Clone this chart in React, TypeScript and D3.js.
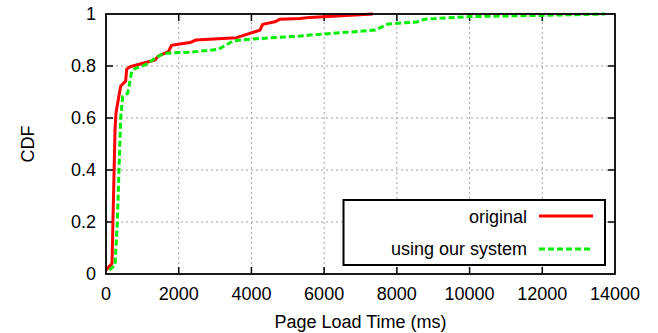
import * as d3 from "d3";
import React from "react";

// page load time (ms) vs CDF
const originalX = [0, 165, 248, 275, 404, 541, 569, 660, 1348, 1440, 1714, 1805, 2310, 2475, 3594, 4235, 4308, 4647, 4785, 5335, 5610, 7340];
const originalY = [0.015, 0.04, 0.554, 0.62, 0.723, 0.742, 0.788, 0.797, 0.823, 0.838, 0.855, 0.88, 0.89, 0.9, 0.909, 0.938, 0.96, 0.97, 0.98, 0.983, 0.987, 1.0];

const systemX = [92, 248, 312, 348, 404, 459, 596, 706, 797, 1072, 1394, 1595, 2310, 3090, 3502, 4144, 5335, 5610, 7398, 7765, 8543, 8772, 10010, 12027, 13722];
const systemY = [0.015, 0.035, 0.2, 0.36, 0.6, 0.682, 0.695, 0.778, 0.79, 0.804, 0.833, 0.849, 0.853, 0.864, 0.897, 0.905, 0.915, 0.919, 0.938, 0.962, 0.969, 0.98, 0.99, 0.995, 1.0];

const xTicks = [0, 2000, 4000, 6000, 8000, 10000, 12000, 14000];
const yTicks = [0, 0.2, 0.4, 0.6, 0.8, 1];

const W = 658;
const H = 333;
const m = { left: 106, right: 43, top: 14, bottom: 59 };
const font = "'Liberation Sans', Arial, Helvetica, sans-serif";

export default function App() {
  const x = d3.scaleLinear().domain([0, 14000]).range([m.left, W - m.right]);
  const y = d3.scaleLinear().domain([0, 1]).range([H - m.bottom, m.top]);
  const line = d3
    .line<[number, number]>()
    .x((d) => x(d[0]))
    .y((d) => y(d[1]));

  const orig = originalX.map((v, i) => [v, originalY[i]] as [number, number]);
  const sys = systemX.map((v, i) => [v, systemY[i]] as [number, number]);

  const x0 = x(0), x1 = x(14000), y0 = y(0), y1 = y(1);
  const tl = 7;

  return (
    <svg width={W} height={H} style={{ position: "absolute", left: 0, top: 0 }} fontFamily={font}>
      <rect width={W} height={H} fill="white" />
      {/* grid */}
      {xTicks.slice(1, -1).map((t) => (
        <line key={"gx" + t} x1={x(t)} x2={x(t)} y1={y0} y2={y1} stroke="#a0a0a0" strokeWidth={1} strokeDasharray="2,3" />
      ))}
      {yTicks.slice(1, -1).map((t) => (
        <line key={"gy" + t} x1={x0} x2={x1} y1={y(t)} y2={y(t)} stroke="#a0a0a0" strokeWidth={1} strokeDasharray="2,3" />
      ))}
      {/* ticks, mirrored */}
      {xTicks.slice(1, -1).map((t) => (
        <g key={"tx" + t} stroke="black" strokeWidth={1.5}>
          <line x1={x(t)} x2={x(t)} y1={y0} y2={y0 - tl} />
          <line x1={x(t)} x2={x(t)} y1={y1} y2={y1 + tl} />
        </g>
      ))}
      {yTicks.slice(1, -1).map((t) => (
        <g key={"ty" + t} stroke="black" strokeWidth={1.5}>
          <line x1={x0} x2={x0 + tl} y1={y(t)} y2={y(t)} />
          <line x1={x1} x2={x1 - tl} y1={y(t)} y2={y(t)} />
        </g>
      ))}
      {/* curves */}
      <path d={line(orig) || ""} fill="none" stroke="#ff0000" strokeWidth={3} strokeLinejoin="round" />
      <path d={line(sys) || ""} fill="none" stroke="#00ee00" strokeWidth={3} strokeDasharray="6,3" />
      {/* frame */}
      <rect x={x0} y={y1} width={x1 - x0} height={y0 - y1} fill="none" stroke="black" strokeWidth={1.8} />
      {/* tick labels */}
      {xTicks.map((t) => (
        <text key={"lx" + t} x={x(t)} y={300} textAnchor="middle" fontSize={18}>
          {t}
        </text>
      ))}
      {yTicks.map((t) => (
        <text key={"ly" + t} x={96} y={y(t)} textAnchor="end" dominantBaseline="central" fontSize={18}>
          {t}
        </text>
      ))}
      <text x={x(7000)} y={328} textAnchor="middle" fontSize={18}>
        Page Load Time (ms)
      </text>
      <text transform={`translate(34,144) rotate(-90)`} textAnchor="middle" fontSize={18}>
        CDF
      </text>
      {/* legend */}
      <rect x={343.5} y={200} width={261.5} height={65} fill="white" stroke="black" strokeWidth={2} />
      <text x={527} y={223} textAnchor="end" fontSize={18}>original</text>
      <line x1={539} x2={593} y1={216} y2={216} stroke="#ff0000" strokeWidth={3} />
      <text x={527} y={255} textAnchor="end" fontSize={18}>using our system</text>
      <line x1={539} x2={593} y1={249} y2={249} stroke="#00ee00" strokeWidth={3} strokeDasharray="6,3" />
    </svg>
  );
}
